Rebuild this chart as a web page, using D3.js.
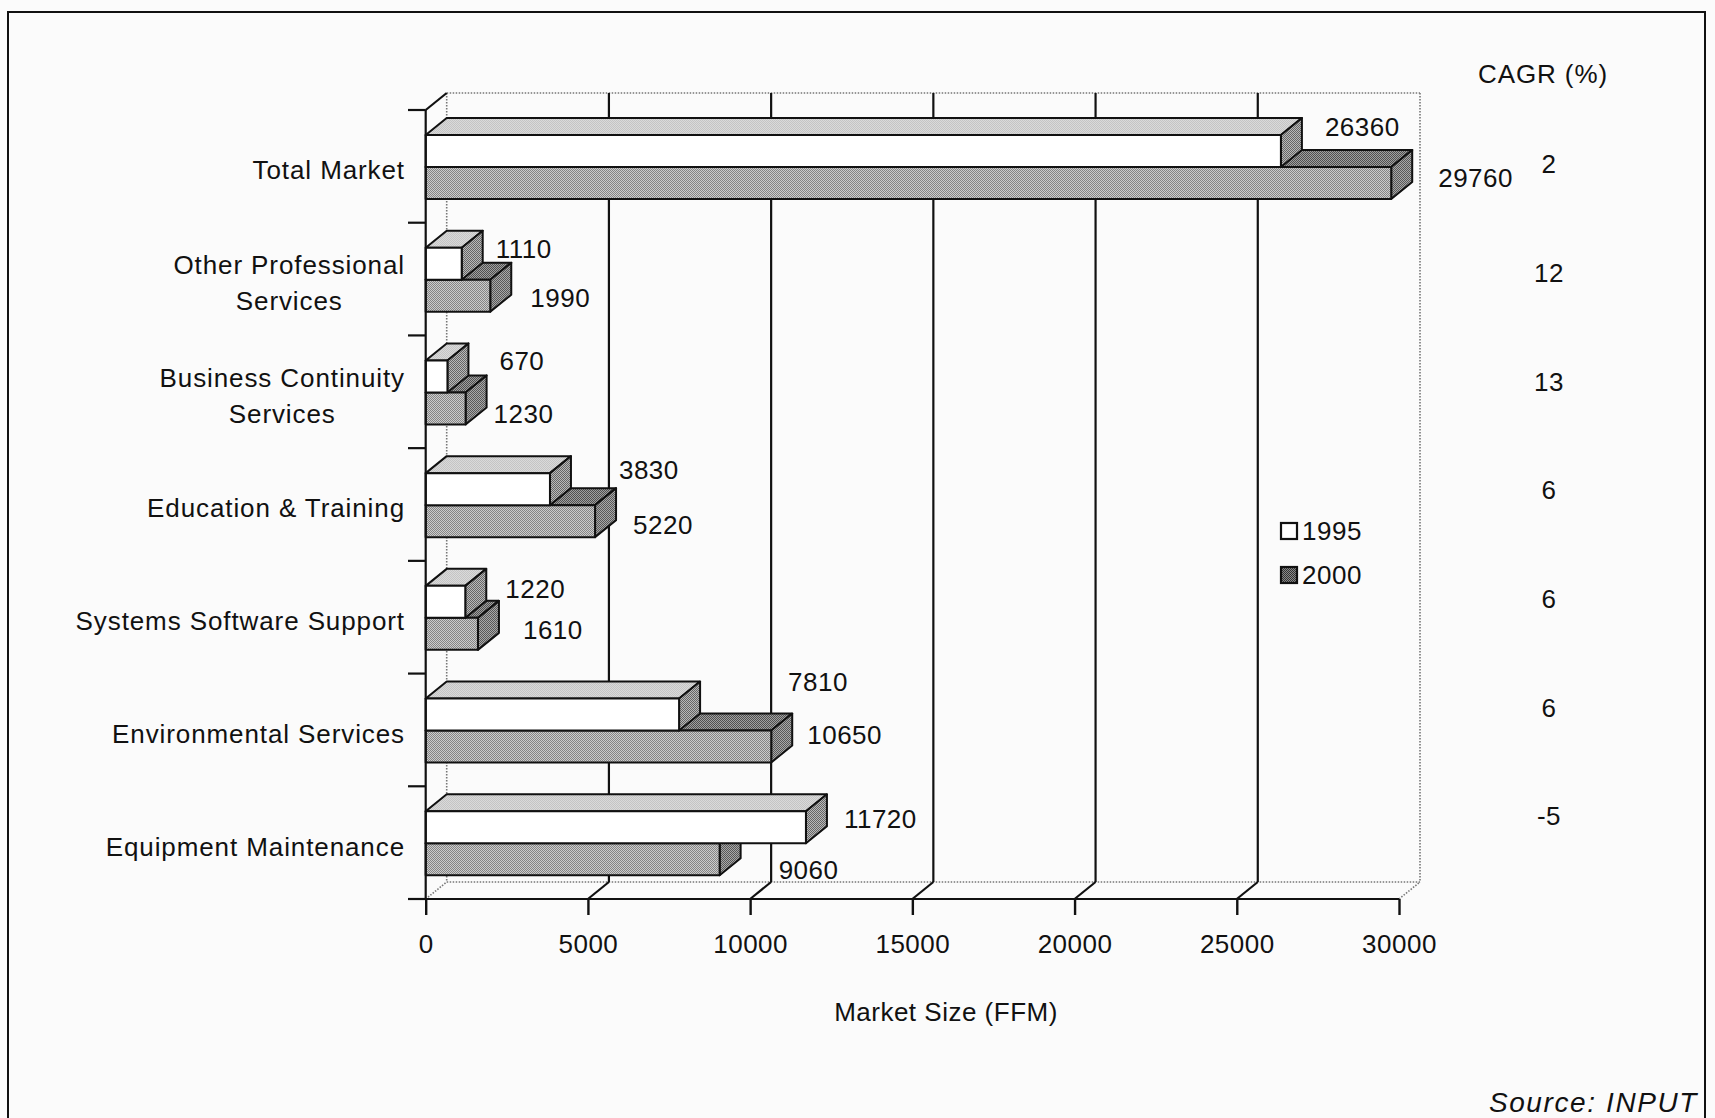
<!DOCTYPE html>
<html>
<head>
<meta charset="utf-8">
<script src="https://cdn.jsdelivr.net/npm/d3@7"></script>
<style>
  html, body { margin: 0; padding: 0; background: #fbfbfb; }
  svg { display: block; }
  text { font-family: "Liberation Sans", Arial, Helvetica, sans-serif; fill: #111; letter-spacing: 0.5px; }
</style>
</head>
<body>
<svg id="chart" width="1715" height="1118"></svg>
<script>
// ---- data ----
const categories = [
  "Total Market",
  "Other Professional\nServices",
  "Business Continuity\nServices",
  "Education & Training",
  "Systems Software Support",
  "Environmental Services",
  "Equipment Maintenance"
];
const series = ["1995", "2000"];
const values1995 = [26360, 1110, 670, 3830, 1220, 7810, 11720];
const values2000 = [29760, 1990, 1230, 5220, 1610, 10650, 9060];
const cagr = [2, 12, 13, 6, 6, 6, -5];
const xTicks = [0, 5000, 10000, 15000, 20000, 25000, 30000];

// ---- layout ----
const DX = 21, DY = 17;           // oblique depth offset of the 3-D box
const plot = { left: 425.7, right: 1399, top: 110, bottom: 899 };

// hand-placed value labels: offset from the end of each bar's side face
const labelNudge1995 = [[23, -24], [13, -15], [31, -16], [48, -20], [19, -13], [88, -33], [17, -9]];
const labelNudge2000 = [[26, -5], [19, 2], [7, 5], [17, 3], [24, -4], [15, -12], [38, 10]];

const svg = d3.select("#chart");

// dithered fills
const defs = svg.append("defs");
function dither(id, base, dot) {
  const p = defs.append("pattern").attr("id", id)
    .attr("width", 2).attr("height", 2).attr("patternUnits", "userSpaceOnUse");
  p.append("rect").attr("width", 2).attr("height", 2).attr("fill", base);
  p.append("rect").attr("x", 0).attr("y", 0).attr("width", 1).attr("height", 1).attr("fill", dot);
  p.append("rect").attr("x", 1).attr("y", 1).attr("width", 1).attr("height", 1).attr("fill", dot);
  return `url(#${id})`;
}
const fills = {
  "1995": { front: "#ffffff", top: dither("t95", "#dadada", "#c4c4c4"), side: dither("s95", "#b9b9b9", "#666666") },
  "2000": { front: dither("f00", "#cccccc", "#858585"), top: dither("t00", "#a0a0a0", "#505050"), side: dither("s00", "#a8a8a8", "#585858") }
};

// scales
const x = d3.scaleLinear().domain([0, 30000]).range([plot.left, plot.right]);
const y = d3.scaleBand().domain(categories).range([plot.top, plot.bottom]);
const ySub = d3.scaleBand().domain(series).range([25, 89]);
const yCagr = d3.scalePoint().domain(categories).range([164, 816]);

// frame
svg.append("rect").attr("x", 8).attr("y", 12).attr("width", 1697).attr("height", 1140)
  .attr("fill", "none").attr("stroke", "#111").attr("stroke-width", 2);

// ---- back wall and floor ----
const wall = svg.append("g");
const dotted = { stroke: "#777", "stroke-width": 1.6, "stroke-dasharray": "1.5 1.5" };
const solid = { stroke: "#111", "stroke-width": 2.2 };
function line(g, x1, y1, x2, y2, style) {
  const l = g.append("line").attr("x1", x1).attr("y1", y1).attr("x2", x2).attr("y2", y2);
  Object.entries(style).forEach(([k, v]) => l.attr(k, v));
  return l;
}
const wx0 = x(0) + DX, wx1 = x(30000) + DX, wy0 = plot.top - DY, wy1 = plot.bottom - DY;
line(wall, wx0, wy0, wx1, wy0, dotted);
line(wall, wx0, wy0, wx0, wy1, dotted);
line(wall, wx1, wy0, wx1, wy1, dotted);
line(wall, wx0, wy1, wx1, wy1, dotted);
line(wall, x(0), plot.bottom, wx0, wy1, dotted);
line(wall, x(30000), plot.bottom, wx1, wy1, dotted);
line(wall, x(0), plot.top, wx0, wy0, solid);

// gridlines on the wall and floor
xTicks.filter(t => t > 0 && t < 30000).forEach(t => {
  line(wall, x(t) + DX, wy0, x(t) + DX, wy1, solid);
  line(wall, x(t), plot.bottom, x(t) + DX, wy1, solid);
});

// ---- bars ----
const bars = svg.append("g").attr("stroke", "#111").attr("stroke-width", 2).attr("stroke-linejoin", "round");
function bar3d(g, v, y0, h, f) {
  const x0 = x(0), x1 = x(v), y1 = y0 + h;
  g.append("polygon").attr("fill", f.top)
    .attr("points", [[x0, y0], [x1, y0], [x1 + DX, y0 - DY], [x0 + DX, y0 - DY]].join(" "));
  g.append("polygon").attr("fill", f.side)
    .attr("points", [[x1, y0], [x1 + DX, y0 - DY], [x1 + DX, y1 - DY], [x1, y1]].join(" "));
  g.append("rect").attr("x", x0).attr("y", y0).attr("width", x1 - x0).attr("height", h).attr("fill", f.front);
}
categories.forEach((c, i) => {
  const g = bars.append("g");
  // the lower (2000) bar goes first so the 1995 bar sits over its top face
  bar3d(g, values2000[i], y(c) + ySub("2000"), ySub.bandwidth(), fills["2000"]);
  bar3d(g, values1995[i], y(c) + ySub("1995"), ySub.bandwidth(), fills["1995"]);
});

// ---- axes ----
const axes = svg.append("g");
line(axes, x(0), plot.top, x(0), plot.bottom, solid);
categories.map(c => y(c)).concat([plot.bottom]).forEach(b => line(axes, 408, b, x(0), b, solid));

const xAxis = axes.append("g").attr("transform", `translate(0,${plot.bottom})`)
  .call(d3.axisBottom(x).tickValues(xTicks).tickSize(16).tickSizeOuter(0).tickFormat(d3.format("d")));
xAxis.select(".domain").remove();
xAxis.selectAll(".tick line").attr("stroke", "#111").attr("stroke-width", 2.4);
xAxis.selectAll(".tick text").attr("y", 45).attr("dy", "0.36em")
  .style("font-size", "26px").style("font-family", "'Liberation Sans', Arial, sans-serif").attr("fill", "#111");
line(axes, 408, plot.bottom, x(30000), plot.bottom, solid);

// category labels: right-aligned block, wrapped lines centred within it
const catLabels = svg.append("g").attr("font-size", 26);
categories.forEach(c => {
  const lines = c.split("\n");
  const cy = y(c) + y.bandwidth() / 2 + 3.5;
  const t = catLabels.append("text").style("letter-spacing", "0.9px");
  const spans = lines.map((s, k) => t.append("tspan")
    .attr("y", cy + (k - (lines.length - 1) / 2) * 36)
    .attr("dy", "0.36em").text(s));
  const widest = d3.max(spans, sp => sp.node().getComputedTextLength());
  t.attr("text-anchor", "middle");
  spans.forEach(sp => sp.attr("x", 405 - widest / 2));
});

// value labels
const valLabels = svg.append("g").attr("font-size", 26);
categories.forEach((c, i) => {
  [[values1995, labelNudge1995, "1995"], [values2000, labelNudge2000, "2000"]].forEach(([vals, nudge, s]) => {
    const cx = x(vals[i]) + DX + nudge[i][0];
    const cy = y(c) + ySub(s) + ySub.bandwidth() / 2 + nudge[i][1];
    valLabels.append("text").attr("x", cx).attr("y", cy).attr("dy", "0.36em").text(vals[i]);
  });
});

// CAGR column
const cg = svg.append("g").attr("font-size", 26).attr("text-anchor", "middle");
cg.append("text").attr("x", 1543).attr("y", 74).attr("dy", "0.36em").style("letter-spacing", "0.9px").text("CAGR (%)");
categories.forEach((c, i) => {
  cg.append("text").attr("x", 1549).attr("y", yCagr(c)).attr("dy", "0.36em").text(cagr[i]);
});

// legend
const lg = svg.append("g").attr("font-size", 26);
series.forEach((s, k) => {
  const ly = 531 + k * 44;
  lg.append("rect").attr("x", 1281).attr("y", ly - 8).attr("width", 16).attr("height", 16)
    .attr("fill", s === "1995" ? "#fff" : dither("lg00", "#8a8a8a", "#333"))
    .attr("stroke", "#111").attr("stroke-width", 2.2);
  lg.append("text").attr("x", 1302).attr("y", ly).attr("dy", "0.36em").text(s);
});

// axis title and source
svg.append("text").attr("x", 946).attr("y", 1012).attr("dy", "0.36em")
  .attr("text-anchor", "middle").attr("font-size", 26).text("Market Size (FFM)");
svg.append("text").attr("x", 1698).attr("y", 1102).attr("dy", "0.36em")
  .attr("text-anchor", "end").attr("font-size", 28).attr("font-style", "italic")
  .style("letter-spacing", "1.6px").text("Source: INPUT");
</script>
</body>
</html>
